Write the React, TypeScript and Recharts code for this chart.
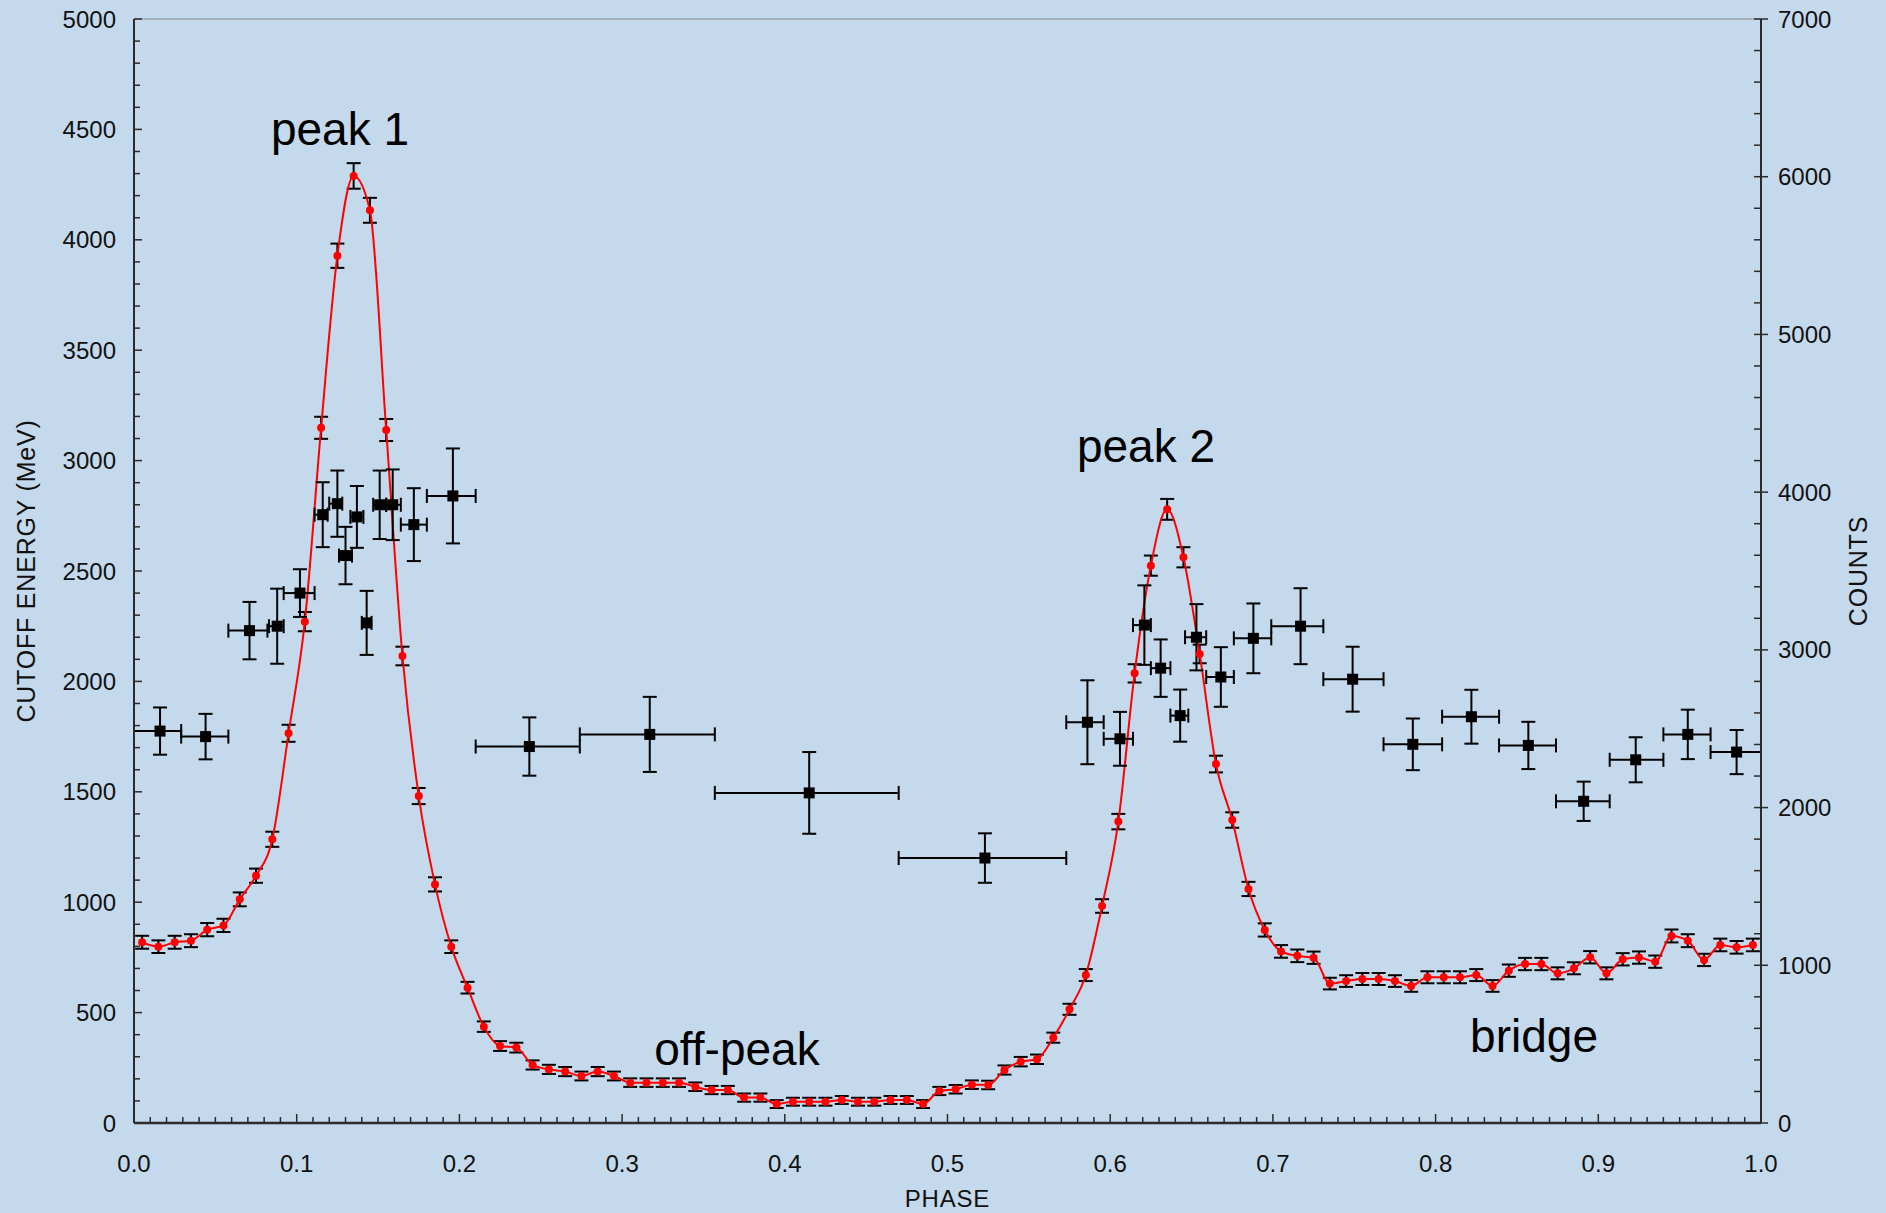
import React from 'react';
import {
  ComposedChart,
  Line,
  Scatter,
  XAxis,
  YAxis,
  ErrorBar,
  ReferenceDot,
  ReferenceLine,
  Label,
} from 'recharts';

// ---------- red series: counts per phase bin (right axis) ----------
const countPhase = [
  0.005, 0.015, 0.025, 0.035, 0.045, 0.055, 0.065, 0.075, 0.085, 0.095,
  0.105, 0.115, 0.125, 0.135, 0.145, 0.155, 0.165, 0.175, 0.185, 0.195,
  0.205, 0.215, 0.225, 0.235, 0.245, 0.255, 0.265, 0.275, 0.285, 0.295,
  0.305, 0.315, 0.325, 0.335, 0.345, 0.355, 0.365, 0.375, 0.385, 0.395,
  0.405, 0.415, 0.425, 0.435, 0.445, 0.455, 0.465, 0.475, 0.485, 0.495,
  0.505, 0.515, 0.525, 0.535, 0.545, 0.555, 0.565, 0.575, 0.585, 0.595,
  0.605, 0.615, 0.625, 0.635, 0.645, 0.655, 0.665, 0.675, 0.685, 0.695,
  0.705, 0.715, 0.725, 0.735, 0.745, 0.755, 0.765, 0.775, 0.785, 0.795,
  0.805, 0.815, 0.825, 0.835, 0.845, 0.855, 0.865, 0.875, 0.885, 0.895,
  0.905, 0.915, 0.925, 0.935, 0.945, 0.955, 0.965, 0.975, 0.985, 0.995,
];
const counts = [
  1146, 1118, 1146, 1156, 1226, 1253, 1418, 1568, 1799, 2471,
  3179, 4408, 5499, 6005, 5787, 4394, 2961, 2073, 1513, 1118,
  858, 611, 488, 478, 368, 340, 326, 298, 326, 298,
  256, 256, 256, 256, 230, 209, 209, 161, 161, 120,
  135, 135, 135, 146, 135, 135, 146, 146, 120, 203,
  214, 243, 241, 336, 389, 404, 541, 721, 938, 1376,
  1911, 2851, 3534, 3891, 3587, 2974, 2276, 1921, 1484, 1224,
  1088, 1060, 1048, 884, 900, 913, 913, 900, 869, 924,
  924, 924, 938, 869, 966, 1008, 1008, 949, 981, 1051,
  949, 1038, 1049, 1023, 1186, 1156, 1034, 1129, 1114, 1129,
];
const countErr = [
  41, 40, 41, 41, 42, 42, 44, 45, 48, 54,
  61, 70, 77, 81, 79, 70, 59, 51, 45, 40,
  37, 33, 31, 31, 29, 29, 29, 28, 29, 28,
  27, 27, 27, 27, 27, 26, 26, 26, 26, 25,
  25, 25, 25, 25, 25, 25, 25, 25, 25, 26,
  27, 27, 27, 29, 30, 30, 32, 35, 38, 43,
  49, 58, 64, 66, 64, 59, 53, 49, 45, 42,
  40, 40, 39, 37, 37, 38, 38, 37, 37, 38,
  38, 38, 38, 37, 39, 39, 39, 38, 38, 39,
  38, 39, 39, 39, 41, 41, 39, 40, 40, 40,
];

// ---------- black series: cutoff energy per phase interval (left axis) ----------
const cutPhase = [
  0.016, 0.044, 0.071, 0.088, 0.102, 0.116, 0.125, 0.130, 0.137, 0.143,
  0.151, 0.159, 0.172, 0.196, 0.243, 0.317, 0.415, 0.523, 0.586, 0.606,
  0.621, 0.631, 0.643, 0.653, 0.668, 0.688, 0.717, 0.749, 0.786, 0.822,
  0.857, 0.891, 0.923, 0.955, 0.985,
];
const cutLo = [
  0.000, 0.029, 0.058, 0.083, 0.092, 0.111, 0.120, 0.126, 0.133, 0.140,
  0.147, 0.155, 0.164, 0.180, 0.210, 0.274, 0.357, 0.470, 0.573, 0.596,
  0.614, 0.625, 0.637, 0.646, 0.659, 0.676, 0.699, 0.731, 0.768, 0.804,
  0.839, 0.874, 0.907, 0.940, 0.969,
];
const cutHi = [
  0.029, 0.058, 0.082, 0.092, 0.111, 0.119, 0.128, 0.134, 0.141, 0.146,
  0.155, 0.164, 0.180, 0.210, 0.274, 0.357, 0.470, 0.573, 0.596, 0.614,
  0.625, 0.637, 0.648, 0.659, 0.676, 0.699, 0.731, 0.768, 0.804, 0.839,
  0.874, 0.907, 0.940, 0.969, 1.000,
];
const cutoff = [
  1775, 1750, 2230, 2250, 2400, 2755, 2805, 2570, 2745, 2265,
  2800, 2800, 2710, 2840, 1705, 1760, 1495, 1200, 1815, 1740,
  2255, 2060, 1845, 2200, 2020, 2195, 2250, 2010, 1715, 1840,
  1710, 1457, 1645, 1760, 1680,
];
const cutoffErr = [
  107, 103, 130, 170, 108, 147, 150, 130, 140, 145,
  155, 160, 165, 215, 132, 170, 185, 112, 190, 122,
  180, 130, 118, 150, 135, 158, 172, 147, 117, 122,
  107, 89, 102, 112, 100,
];

// ---------- axes ----------
const xMajorTicks = [0, 0.1, 0.2, 0.3, 0.4, 0.5, 0.6, 0.7, 0.8, 0.9, 1.0];
const xTickLabels = ['0.0', '0.1', '0.2', '0.3', '0.4', '0.5', '0.6', '0.7', '0.8', '0.9', '1.0'];
const leftMajorTicks = [0, 500, 1000, 1500, 2000, 2500, 3000, 3500, 4000, 4500, 5000];
const rightMajorTicks = [0, 1000, 2000, 3000, 4000, 5000, 6000, 7000];
const xMinorStep = 0.01;
const leftMinorStep = 100;
const rightMinorStep = 200;

// ---------- annotations ----------
const annotationText = ['peak 1', 'peak 2', 'off-peak', 'bridge'];
const annotationPhase = [0.1266, 0.622, 0.3706, 0.8605];
const annotationEnergy = [4502, 3066, 335, 394];

const FONT = '"Liberation Sans", Arial, Helvetica, sans-serif';
const BG = '#C4D9EB';
const AXIS = '#2b2b2b';

const countData = countPhase.map((p, i) => ({ phase: p, counts: counts[i], cerr: countErr[i] }));
const cutData = cutPhase.map((p, i) => ({
  phase: p,
  energy: cutoff[i],
  eerr: cutoffErr[i],
  xerr: [p - cutLo[i], cutHi[i] - p],
}));

const makeTicks = (max: number, step: number) => {
  const n = Math.round(max / step);
  const out: number[] = [];
  for (let i = 0; i <= n; i++) out.push(Math.round(i * step * 1000) / 1000);
  return out;
};
const xTicks = makeTicks(1, xMinorStep);
const leftTicks = makeTicks(5000, leftMinorStep);
const rightTicks = makeTicks(7000, rightMinorStep);

const isMajor = (v: number, majors: number[]) => majors.some((m) => Math.abs(m - v) < 1e-6);

const LeftTick = (props: any) => {
  const { x, y, payload } = props;
  const v = payload.value;
  const major = isMajor(v, leftMajorTicks);
  return (
    <g>
      <line x1={x} y1={y} x2={x + (major ? 8 : 6)} y2={y} stroke={AXIS} strokeWidth={1.5} />
      {major && (
        <text x={x - 18} y={y} textAnchor="end" dominantBaseline="central" fontSize={24} fontFamily={FONT} fill="#111">
          {v}
        </text>
      )}
    </g>
  );
};

const RightTick = (props: any) => {
  const { x, y, payload } = props;
  const v = payload.value;
  const major = isMajor(v, rightMajorTicks);
  return (
    <g>
      <line x1={x - 7} y1={y} x2={major ? x + 7 : x} y2={y} stroke={AXIS} strokeWidth={1.5} />
      {major && (
        <text x={x + 17} y={y} textAnchor="start" dominantBaseline="central" fontSize={24} fontFamily={FONT} fill="#111">
          {v}
        </text>
      )}
    </g>
  );
};

const BottomTick = (props: any) => {
  const { x, y, payload } = props;
  const v = payload.value;
  const idx = xMajorTicks.findIndex((m) => Math.abs(m - v) < 1e-6);
  const major = idx >= 0;
  return (
    <g>
      <line x1={x} y1={y} x2={x} y2={y - (major ? 9 : 6)} stroke={AXIS} strokeWidth={1.5} />
      {major && (
        <text x={x} y={y + 40} textAnchor="middle" dominantBaseline="central" fontSize={24} fontFamily={FONT} fill="#111">
          {xTickLabels[idx]}
        </text>
      )}
    </g>
  );
};

const SquareShape = (props: any) => {
  const { cx, cy } = props;
  return <rect x={cx - 5.5} y={cy - 5.5} width={11} height={11} fill="#000" />;
};

const LeftTitle = (props: any) => {
  const vb = props.viewBox || { x: 54, y: 19, width: 80, height: 1104 };
  const cx = vb.x - 28;
  const cy = vb.y + vb.height / 2;
  return (
    <text x={cx} y={cy} transform={`rotate(-90 ${cx} ${cy})`} textAnchor="middle" dominantBaseline="central" fontSize={25} fontFamily={FONT} fill="#111" letterSpacing={0.8}>
      CUTOFF ENERGY (MeV)
    </text>
  );
};

const RightTitle = (props: any) => {
  const vb = props.viewBox || { x: 1761, y: 19, width: 80, height: 1104 };
  const cx = vb.x + 97;
  const cy = vb.y + vb.height / 2;
  return (
    <text x={cx} y={cy} transform={`rotate(-90 ${cx} ${cy})`} textAnchor="middle" dominantBaseline="central" fontSize={25} fontFamily={FONT} fill="#111" letterSpacing={0.8}>
      COUNTS
    </text>
  );
};

const BottomTitle = (props: any) => {
  const vb = props.viewBox || { x: 134, y: 1123, width: 1627, height: 60 };
  const cx = vb.x + vb.width / 2;
  const cy = vb.y + 75;
  return (
    <text x={cx} y={cy} textAnchor="middle" dominantBaseline="central" fontSize={24} fontFamily={FONT} fill="#111" letterSpacing={0.8}>
      PHASE
    </text>
  );
};

export default function App() {
  return (
    <div style={{ position: 'absolute', left: 0, top: 0, width: 1886, height: 1213, background: BG }}>
      <ComposedChart
        width={1886}
        height={1213}
        margin={{ top: 19, right: 45, bottom: 30, left: 54 }}
        style={{ background: BG }}
      >
        <XAxis
          dataKey="phase"
          type="number"
          domain={[0, 1]}
          allowDataOverflow
          ticks={xTicks}
          interval={0}
          tickSize={0}
          tickMargin={0}
          tickLine={false}
          tick={<BottomTick />}
          axisLine={{ stroke: AXIS, strokeWidth: 2.5 }}
          height={60}
        >
          <Label content={<BottomTitle />} />
        </XAxis>
        <YAxis
          yAxisId="left"
          orientation="left"
          type="number"
          domain={[0, 5000]}
          allowDataOverflow
          ticks={leftTicks}
          interval={0}
          tickSize={0}
          tickMargin={0}
          tickLine={false}
          tick={<LeftTick />}
          axisLine={{ stroke: AXIS, strokeWidth: 2 }}
          width={80}
        >
          <Label content={<LeftTitle />} />
        </YAxis>
        <YAxis
          yAxisId="right"
          orientation="right"
          type="number"
          domain={[0, 7000]}
          allowDataOverflow
          ticks={rightTicks}
          interval={0}
          tickSize={0}
          tickMargin={0}
          tickLine={false}
          tick={<RightTick />}
          axisLine={{ stroke: AXIS, strokeWidth: 2 }}
          width={80}
        >
          <Label content={<RightTitle />} />
        </YAxis>

        <ReferenceLine yAxisId="left" y={5000} stroke="#8a8a8a" strokeWidth={1.2} />

        <Line
          yAxisId="right"
          data={countData}
          dataKey="counts"
          type="monotone"
          stroke="#FF0000"
          strokeWidth={2}
          dot={{ r: 4, fill: '#FF0000', stroke: 'none' }}
          isAnimationActive={false}
        >
          <ErrorBar dataKey="cerr" direction="y" width={7} stroke="#000" strokeWidth={2} />
        </Line>

        <Scatter
          yAxisId="left"
          data={cutData}
          dataKey="energy"
          shape={<SquareShape />}
          fill="#000"
          isAnimationActive={false}
        >
          <ErrorBar dataKey="eerr" direction="y" width={7} stroke="#000" strokeWidth={2} />
          <ErrorBar dataKey="xerr" direction="x" width={7} stroke="#000" strokeWidth={2} />
        </Scatter>

        {annotationText.map((t, i) => (
          <ReferenceDot
            key={t}
            yAxisId="left"
            x={annotationPhase[i]}
            y={annotationEnergy[i]}
            r={0}
            fill="none"
            stroke="none"
            label={{ value: t, position: 'center', fontSize: 46, fontFamily: FONT, fill: '#000' }}
          />
        ))}
      </ComposedChart>
    </div>
  );
}
